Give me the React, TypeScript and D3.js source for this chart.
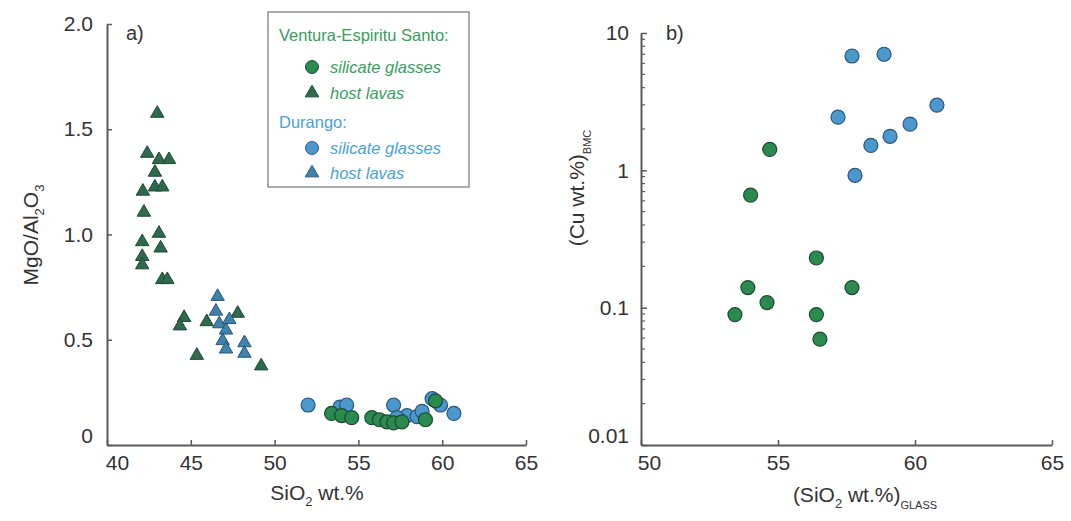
import { useEffect, useRef } from "react";
import * as d3 from "d3";

// panel a) — [SiO2, MgO/Al2O3]
const veGlassA: [number, number][] = [
  [53.4, 0.15], [54.0, 0.14], [54.6, 0.13], [55.8, 0.13], [56.25, 0.12],
  [56.7, 0.11], [57.1, 0.105], [57.6, 0.11], [59.0, 0.12], [59.6, 0.21],
];
const veLavaA: [number, number][] = [
  [43.0, 1.58], [42.4, 1.39], [43.1, 1.36], [43.7, 1.36], [42.86, 1.3],
  [42.14, 1.21], [42.86, 1.23], [43.3, 1.23], [42.2, 1.11], [43.1, 1.01],
  [42.1, 0.97], [43.2, 0.94], [42.1, 0.9], [42.1, 0.86], [43.3, 0.79],
  [43.6, 0.79], [44.6, 0.61], [44.35, 0.57], [45.95, 0.59], [47.8, 0.63],
  [45.36, 0.43], [49.2, 0.38],
];
const duGlassA: [number, number][] = [
  [52.0, 0.19], [53.9, 0.18], [54.3, 0.19], [57.1, 0.19], [57.9, 0.14],
  [58.5, 0.135], [58.8, 0.16], [59.4, 0.22], [59.9, 0.19], [60.7, 0.15],
  [57.3, 0.13],
];
const duLavaA: [number, number][] = [
  [46.6, 0.71], [46.5, 0.64], [46.7, 0.58], [47.1, 0.55], [46.9, 0.5],
  [47.1, 0.46], [48.2, 0.49], [48.2, 0.44], [47.3, 0.6],
];

// panel b) — [SiO2 glass, Cu wt.%]
const veGlassB: [number, number][] = [
  [54.7, 1.42], [54.0, 0.66], [56.4, 0.23], [53.9, 0.14], [57.7, 0.14],
  [54.6, 0.109], [53.43, 0.089], [56.4, 0.089], [56.53, 0.059],
];
const duGlassB: [number, number][] = [
  [57.7, 6.8], [58.87, 7.0], [57.19, 2.44], [60.8, 2.98], [59.82, 2.17],
  [59.09, 1.77], [58.39, 1.52], [57.81, 0.92],
];

const xTicksA = [40, 45, 50, 55, 60, 65];
const yTicksA = [0, 0.5, 1.0, 1.5, 2.0];
const yLabelsA = ["0", "0.5", "1.0", "1.5", "2.0"];
const xTicksB = [50, 55, 60, 65];
const yTicksB = [0.01, 0.1, 1, 10];
const yLabelsB = ["0.01", "0.1", "1", "10"];

const W = 1071;
const H = 521;
const FONT = "Liberation Sans, Arial, sans-serif";
const AXIS = "#5a5a5a";
const TEXT = "#333";

const GREEN = "#2b8a4e";
const GREEN_EDGE = "#1d4a33";
const GREEN_TRI = "#2f6a4e";
const BLUE = "#4b98cf";
const BLUE_EDGE = "#2b5677";
const BLUE_TRI = "#3f83ad";
const LEG_GREEN = "#3a9d5e";
const LEG_BLUE = "#4aa2d6";

export default function App() {
  const svgRef = useRef<SVGSVGElement>(null);

  useEffect(() => {
    const svg = d3.select(svgRef.current);
    svg.selectAll("*").remove();

    const xa = d3.scaleLinear().domain([40, 65]).range([107, 526]);
    const ya = d3.scaleLinear().domain([0, 2]).range([445, 24]);
    const xb = d3.scaleLinear().domain([50, 65]).range([641, 1052]);
    const yb = d3.scaleLog().domain([0.01, 10]).range([445, 33]);

    const styleAxis = (g: any) => {
      g.select(".domain").attr("stroke", AXIS).attr("stroke-width", 2);
      g.selectAll(".tick line").attr("stroke", AXIS).attr("stroke-width", 1.5);
      g.selectAll(".tick text")
        .attr("font-size", "21px")
        .attr("font-family", FONT)
        .attr("fill", TEXT);
    };

    // --- panel a axes
    svg.append("g")
      .attr("transform", `translate(0,${ya(0)})`)
      .call(
        d3.axisBottom(xa).tickValues(xTicksA).tickSizeInner(-5).tickSizeOuter(0)
          .tickPadding(10).tickFormat((d) => String(d)),
      )
      .call(styleAxis)
      .call((g) => g.selectAll(".tick text").attr("dx", (d: any) => (d === 40 ? 10 : 0)));

    svg.append("g")
      .attr("transform", `translate(${xa(40)},0)`)
      .call(
        d3.axisLeft(ya).tickValues(yTicksA).tickSizeInner(-5).tickSizeOuter(0)
          .tickPadding(14).tickFormat((_, i) => yLabelsA[i]),
      )
      .call(styleAxis)
      .call((g) => g.selectAll(".tick text").attr("dy", (d: any) => (d === 0 ? "-0.1em" : "0.32em")));

    // --- panel b axes
    svg.append("g")
      .attr("transform", `translate(0,${yb(0.01)})`)
      .call(
        d3.axisBottom(xb).tickValues(xTicksB).tickSizeInner(-5).tickSizeOuter(0)
          .tickPadding(10).tickFormat((d) => String(d)),
      )
      .call(styleAxis)
      .call((g) => g.selectAll(".tick text").attr("dx", (d: any) => (d === 50 ? 8 : 0)));

    const minor: number[] = [];
    [0.01, 0.1, 1].forEach((dec) => {
      for (let k = 2; k <= 9; k++) minor.push(dec * k);
    });
    svg.append("g")
      .attr("transform", `translate(${xb(50)},0)`)
      .selectAll("line")
      .data(minor)
      .join("line")
      .attr("x1", 0)
      .attr("x2", 4)
      .attr("y1", (d) => yb(d))
      .attr("y2", (d) => yb(d))
      .attr("stroke", AXIS)
      .attr("stroke-width", 1.2);

    svg.append("g")
      .attr("transform", `translate(${xb(50)},0)`)
      .call(
        d3.axisLeft(yb).tickValues(yTicksB).tickSizeInner(-6).tickSizeOuter(0)
          .tickPadding(12).tickFormat((_, i) => yLabelsB[i]),
      )
      .call(styleAxis)
      .call((g) => g.selectAll(".tick text").attr("dy", (d: any) => (d === 0.01 ? "-0.1em" : "0.32em")));

    // --- axis titles
    const title = (x: number, y: number, rotate: boolean) =>
      svg.append("text")
        .attr("transform", rotate ? `translate(${x},${y}) rotate(-90)` : `translate(${x},${y})`)
        .attr("text-anchor", "middle")
        .attr("font-size", "21px")
        .attr("font-family", FONT)
        .attr("fill", TEXT);

    const tA = title(317, 500, false);
    tA.append("tspan").text("SiO");
    tA.append("tspan").attr("font-size", "13px").attr("dy", 6).text("2");
    tA.append("tspan").attr("dy", -6).text(" wt.%");

    const tAy = title(38, 235, true);
    tAy.append("tspan").text("MgO/Al");
    tAy.append("tspan").attr("font-size", "13px").attr("dy", 6).text("2");
    tAy.append("tspan").attr("dy", -6).text("O");
    tAy.append("tspan").attr("font-size", "13px").attr("dy", 6).text("3");

    const tB = title(865, 502, false);
    tB.append("tspan").text("(SiO");
    tB.append("tspan").attr("font-size", "13px").attr("dy", 6).text("2");
    tB.append("tspan").attr("dy", -6).text(" wt.%)");
    tB.append("tspan").attr("font-size", "11px").attr("dy", 7).text("GLASS");

    const tBy = title(584, 188, true);
    tBy.append("tspan").text("(Cu wt.%)");
    tBy.append("tspan").attr("font-size", "11px").attr("dy", 7).text("BMC");

    // panel letters
    svg.append("text").attr("x", 126).attr("y", 40).attr("font-size", "20px")
      .attr("font-family", FONT).attr("fill", TEXT).text("a)");
    svg.append("text").attr("x", 666).attr("y", 40).attr("font-size", "20px")
      .attr("font-family", FONT).attr("fill", TEXT).text("b)");

    // --- markers
    const tri = d3.symbol().type(d3.symbolTriangle).size(78);
    const circles = (
      data: [number, number][], x: any, y: any, fill: string, edge: string,
    ) =>
      svg.append("g").selectAll("circle").data(data).join("circle")
        .attr("cx", (d) => x(d[0])).attr("cy", (d) => y(d[1])).attr("r", 7)
        .attr("fill", fill).attr("stroke", edge).attr("stroke-width", 1.2);
    const triangles = (
      data: [number, number][], x: any, y: any, fill: string, edge: string,
    ) =>
      svg.append("g").selectAll("path").data(data).join("path")
        .attr("transform", (d) => `translate(${x(d[0])},${y(d[1]) + 1})`)
        .attr("d", tri()).attr("fill", fill).attr("stroke", edge).attr("stroke-width", 1);

    triangles(veLavaA, xa, ya, GREEN_TRI, GREEN_EDGE);
    triangles(duLavaA, xa, ya, BLUE_TRI, BLUE_EDGE);
    circles(duGlassA, xa, ya, BLUE, BLUE_EDGE);
    circles(veGlassA, xa, ya, GREEN, GREEN_EDGE);
    circles(veGlassB, xb, yb, GREEN, GREEN_EDGE);
    circles(duGlassB, xb, yb, BLUE, BLUE_EDGE);

    // --- legend
    const lg = svg.append("g");
    lg.append("rect").attr("x", 268).attr("y", 12).attr("width", 201).attr("height", 175)
      .attr("fill", "white").attr("stroke", "#777").attr("stroke-width", 1.2);
    const legText = (x: number, y: number, t: string, color: string, italic: boolean) =>
      lg.append("text").attr("x", x).attr("y", y).attr("font-size", "16.5px")
        .attr("font-family", FONT).attr("font-style", italic ? "italic" : "normal")
        .attr("fill", color).text(t);
    legText(279, 41, "Ventura-Espiritu Santo:", LEG_GREEN, false);
    lg.append("circle").attr("cx", 312).attr("cy", 67).attr("r", 6.5)
      .attr("fill", GREEN).attr("stroke", GREEN_EDGE);
    legText(330, 73, "silicate glasses", LEG_GREEN, true);
    lg.append("path").attr("transform", "translate(312,93)").attr("d", tri())
      .attr("fill", GREEN_TRI).attr("stroke", GREEN_EDGE);
    legText(330, 99, "host lavas", LEG_GREEN, true);
    legText(279, 128, "Durango:", LEG_BLUE, false);
    lg.append("circle").attr("cx", 312).attr("cy", 148).attr("r", 6.5)
      .attr("fill", BLUE).attr("stroke", BLUE_EDGE);
    legText(330, 154, "silicate glasses", LEG_BLUE, true);
    lg.append("path").attr("transform", "translate(312,173)").attr("d", tri())
      .attr("fill", BLUE_TRI).attr("stroke", BLUE_EDGE);
    legText(330, 179, "host lavas", LEG_BLUE, true);
  }, []);

  return (
    <svg
      ref={svgRef}
      width={W}
      height={H}
      style={{ position: "absolute", left: 0, top: 0, background: "white" }}
    />
  );
}
